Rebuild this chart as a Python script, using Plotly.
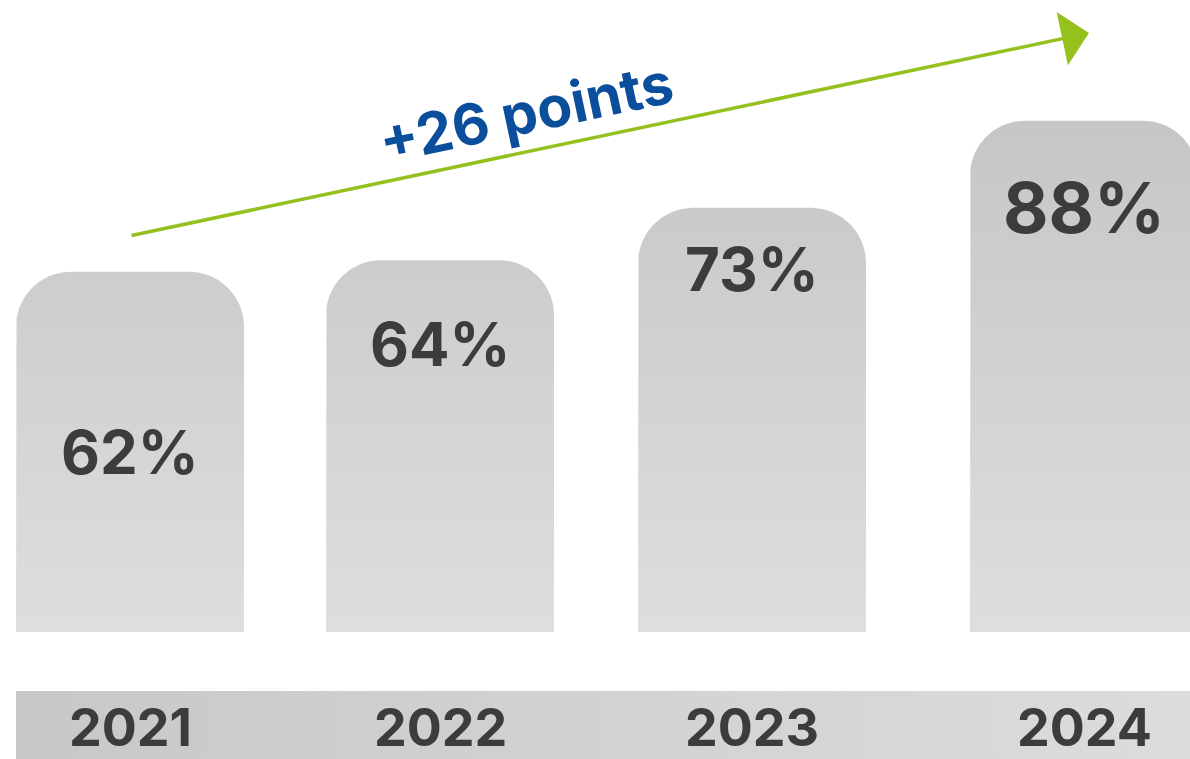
import numpy as np
import plotly.graph_objects as go

# data
years = ["2021", "2022", "2023", "2024"]
shares = [62, 64, 73, 88]
share_labels = ["62%", "64%", "73%", "88%"]

# layout constants (pixel units on the x axis, % points on the y axis)
W, H = 1190, 759          # browser window == figure (body margin removed)
PX = 5.81                 # pixels per percentage point
BASE_PX = 632             # pixel row of the zero line
BAR_CENTERS = [130, 440, 752, 1084]
BAR_W = 228
RADIUS = 55
LABEL_Y = [31.0, 49.6, 62.5, 73.1]
LABEL_SIZE = [60, 60, 60, 70]
BAND_TOP = -10.15
YEAR_Y = -16.5

TEXT = "#3c3c3b"
GREEN = "#95c11f"
BLUE = "#0b4f9c"
FONT = "Inter"

y_max = BASE_PX / PX
y_min = y_max - H / PX


def rounded_bar(cx, top):
    """Outline of a bar with rounded top corners, in data units."""
    x0, x1 = cx - BAR_W / 2, cx + BAR_W / 2
    ry = RADIUS / PX
    t = np.linspace(0, np.pi / 2, 24)
    lx = x0 + RADIUS - RADIUS * np.cos(t)
    ly = top - ry + ry * np.sin(t)
    rx = x1 - RADIUS + RADIUS * np.sin(t)
    ry_ = top - ry + ry * np.cos(t)
    xs = np.concatenate([[x0], lx, rx, [x1, x0]])
    ys = np.concatenate([[0], ly, ry_, [0, 0]])
    return xs, ys


fig = go.Figure()

for cx, v in zip(BAR_CENTERS, shares):
    xs, ys = rounded_bar(cx, v)
    fig.add_trace(go.Scatter(
        x=xs, y=ys, mode="lines", line=dict(width=0),
        fill="toself",
        fillgradient=dict(type="vertical",
                          colorscale=[[0, "#dedede"], [1, "#c6c6c6"]],
                          start=0, stop=max(shares)),
        hoverinfo="skip", showlegend=False,
    ))

# year band
fig.add_trace(go.Scatter(
    x=[16, W + 10, W + 10, 16, 16],
    y=[BAND_TOP, BAND_TOP, y_min - 1, y_min - 1, BAND_TOP],
    mode="lines", line=dict(width=0), fill="toself",
    fillgradient=dict(type="horizontal",
                      colorscale=[[0, "#c8c8c8"], [1, "#dcdcdc"]],
                      start=16, stop=W),
    hoverinfo="skip", showlegend=False,
))

annotations = []
for cx, lab, ly, fs in zip(BAR_CENTERS, share_labels, LABEL_Y, LABEL_SIZE):
    annotations.append(dict(
        x=cx, y=ly, text=lab, showarrow=False, xanchor="center", yanchor="middle",
        font=dict(family=FONT, size=fs, color=TEXT, weight=700),
    ))
for cx, yr in zip(BAR_CENTERS, years):
    annotations.append(dict(
        x=cx, y=YEAR_Y, text=yr, showarrow=False, xanchor="center", yanchor="middle",
        font=dict(family=FONT, size=52, color=TEXT, weight=700),
    ))

# growth arrow
annotations.append(dict(
    x=1089, y=shares[-1] + 15.1, ax=130, ay=shares[0] + 6.2,
    xref="x", yref="y", axref="x", ayref="y",
    text="", showarrow=True, arrowhead=1, arrowsize=2.6, arrowwidth=3.5,
    arrowcolor=GREEN, standoff=0,
))
annotations.append(dict(
    x=526, y=(BASE_PX - 112) / PX,
    text=f"+{shares[-1] - shares[0]} points", showarrow=False, textangle=-12,
    xanchor="center", yanchor="middle",
    font=dict(family=FONT, size=57, color=BLUE, weight=700),
))

fig.update_layout(
    width=W, height=H, autosize=False,
    margin=dict(l=0, r=0, t=0, b=0),
    paper_bgcolor="white", plot_bgcolor="white",
    xaxis=dict(range=[0, W], visible=False, fixedrange=True),
    yaxis=dict(range=[y_min, y_max], visible=False, fixedrange=True),
    annotations=annotations,
    showlegend=False,
)

# drop the page margin and scrollbars so the figure fills the window
fig.write_html(
    "out.html",
    config={"displayModeBar": False, "staticPlot": True},
    post_script="document.documentElement.style.overflow='hidden';"
                "document.body.style.overflow='hidden';"
                "document.body.style.margin='0';",
)
